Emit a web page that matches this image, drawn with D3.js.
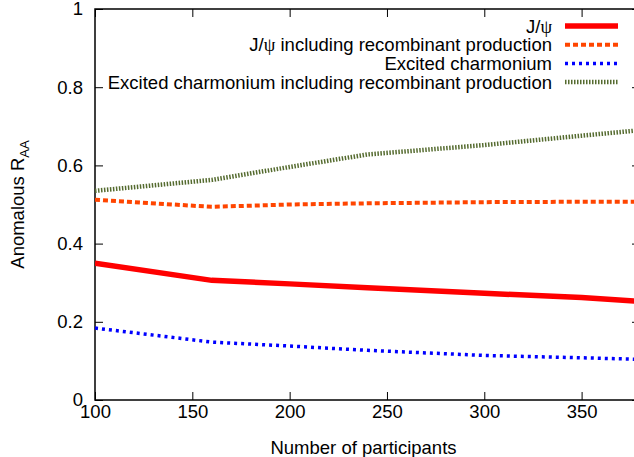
<!DOCTYPE html>
<html>
<head>
<meta charset="utf-8">
<script src="https://cdn.jsdelivr.net/npm/d3@7"></script>
<style>
  body { margin: 0; background: #fff; }
  text { font-family: "Liberation Sans", Arial, sans-serif; fill: #000; }
</style>
</head>
<body>
<div id="chart"></div>
<script>
const width = 634;
const height = 457;
const marginTop = 9;
const marginLeft = 95;
const plotRight = 640;
const plotBottom = 400;

// data
const participants = [100, 160, 200, 240, 300, 350, 380];
const jpsi = [0.350, 0.306, 0.297, 0.287, 0.273, 0.262, 0.252];
const jpsiRecomb = [0.512, 0.494, 0.500, 0.503, 0.506, 0.507, 0.507];
const excited = [0.184, 0.148, 0.138, 0.127, 0.114, 0.108, 0.104];
const excitedRecomb = [0.535, 0.563, 0.596, 0.628, 0.652, 0.676, 0.690];

const xTicks = [100, 150, 200, 250, 300, 350];
const yTicks = [0, 0.2, 0.4, 0.6, 0.8, 1];
const yTickLabels = ["0", "0.2", "0.4", "0.6", "0.8", "1"];

const series = [
  {name: "J/ψ", values: jpsi, color: "#ff0000", width: 5.5, dash: null},
  {name: "J/ψ including recombinant production", values: jpsiRecomb, color: "#ff4500", width: 4, dash: "5,3"},
  {name: "Excited charmonium", values: excited, color: "#0000ff", width: 3.5, dash: "3,4"},
  {name: "Excited charmonium including recombinant production", values: excitedRecomb, color: "#556b2f", width: 4.5, dash: "1.5,1.5"}
];

const x = d3.scaleLinear().domain([100, 380]).range([marginLeft, plotRight]);
const y = d3.scaleLinear().domain([0, 1]).range([plotBottom, marginTop]);

const svg = d3.select("#chart")
  .append("svg")
    .attr("width", width)
    .attr("height", height);

svg.append("defs").append("clipPath")
    .attr("id", "clip")
  .append("rect")
    .attr("x", marginLeft)
    .attr("y", marginTop)
    .attr("width", plotRight - marginLeft)
    .attr("height", plotBottom - marginTop);

// x axis (ticks pointing inward)
const xAxis = svg.append("g")
    .attr("transform", `translate(0,${plotBottom})`)
    .call(d3.axisBottom(x)
      .tickValues(xTicks)
      .tickSizeInner(-8)
      .tickSizeOuter(0)
      .tickPadding(5));
xAxis.select(".domain").remove();
xAxis.selectAll("text").style("font-size", "18.5px");

// mirrored top ticks
svg.append("g")
    .attr("transform", `translate(0,${marginTop})`)
    .call(d3.axisTop(x).tickValues(xTicks).tickSizeInner(-8).tickSizeOuter(0).tickFormat(""))
    .select(".domain").remove();

// y axis
const yAxis = svg.append("g")
    .attr("transform", `translate(${marginLeft},0)`)
    .call(d3.axisLeft(y)
      .tickValues(yTicks)
      .tickSizeInner(-8)
      .tickSizeOuter(0)
      .tickPadding(12)
      .tickFormat((d, i) => yTickLabels[i]));
yAxis.select(".domain").remove();
yAxis.selectAll("text").style("font-size", "18.5px");

// mirrored right ticks
svg.append("g")
    .attr("transform", `translate(${plotRight},0)`)
    .call(d3.axisRight(y).tickValues(yTicks).tickSizeInner(-8).tickSizeOuter(0).tickFormat(""))
    .select(".domain").remove();

// border
svg.append("rect")
    .attr("x", marginLeft)
    .attr("y", marginTop)
    .attr("width", plotRight - marginLeft)
    .attr("height", plotBottom - marginTop)
    .attr("fill", "none")
    .attr("stroke", "#000")
    .attr("stroke-width", 1.5);

// lines
const line = d3.line()
    .x((d, i) => x(participants[i]))
    .y(d => y(d));

svg.append("g")
    .attr("clip-path", "url(#clip)")
  .selectAll("path")
  .data(series)
  .join("path")
    .attr("d", d => line(d.values))
    .attr("fill", "none")
    .attr("stroke", d => d.color)
    .attr("stroke-width", d => d.width)
    .attr("stroke-dasharray", d => d.dash);

// legend
const legend = svg.append("g");
const rows = legend.selectAll("g")
  .data(series)
  .join("g")
    .attr("transform", (d, i) => `translate(0,${26 + i * 18.7})`);

rows.append("line")
    .attr("x1", 565)
    .attr("x2", 618)
    .attr("stroke", d => d.color)
    .attr("stroke-width", d => d.width)
    .attr("stroke-dasharray", d => d.dash);

rows.append("text")
    .attr("x", 552)
    .attr("y", 6.5)
    .attr("text-anchor", "end")
    .style("font-size", "18.5px")
    .each(function(d) {
      const t = d3.select(this);
      const parts = d.name.split("ψ");
      t.append("tspan").text(parts[0]);
      if (parts.length > 1) {
        t.append("tspan").style("font-family", "'Liberation Serif', serif").text("ψ");
        if (parts[1]) t.append("tspan").text(parts[1]);
      }
    });

// axis titles
svg.append("text")
    .attr("x", (marginLeft + plotRight) / 2 - 4)
    .attr("y", 454)
    .attr("text-anchor", "middle")
    .style("font-size", "18.5px")
    .text("Number of participants");

const yTitle = svg.append("text")
    .attr("transform", `translate(24,${(marginTop + plotBottom) / 2}) rotate(-90)`)
    .attr("text-anchor", "middle")
    .style("font-size", "18.5px");
yTitle.append("tspan").text("Anomalous R");
yTitle.append("tspan").attr("dy", 5).style("font-size", "13px").text("AA");
</script>
</body>
</html>
